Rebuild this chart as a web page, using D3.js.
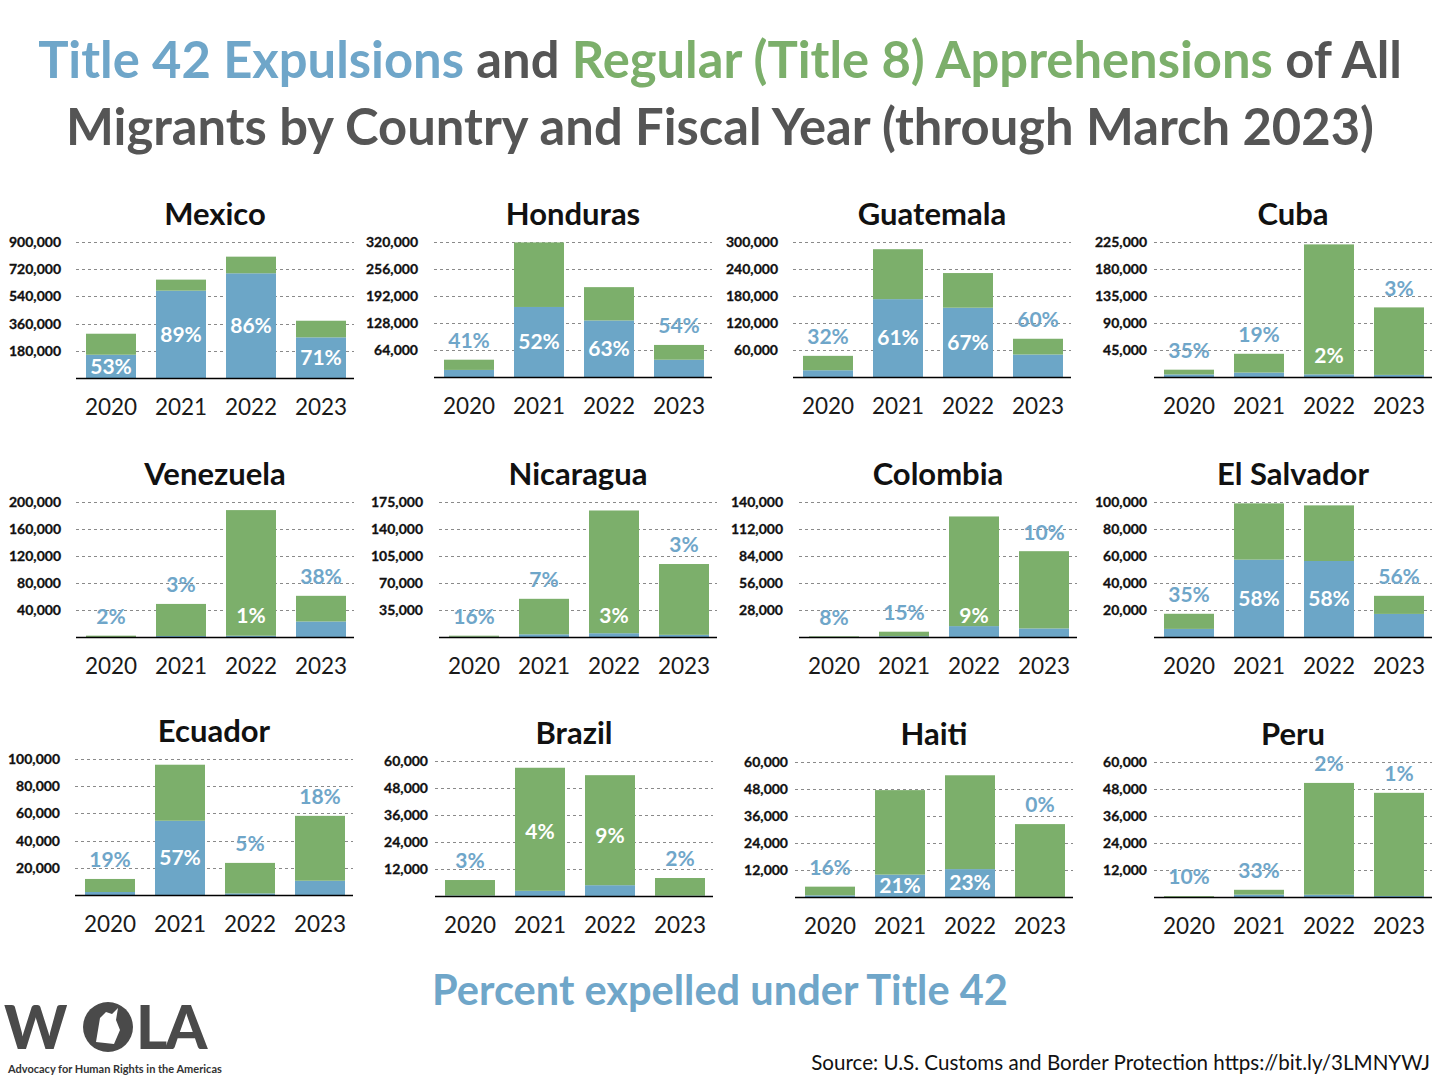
<!DOCTYPE html>
<html>
<head>
<meta charset="utf-8">
<script src="https://cdn.jsdelivr.net/npm/d3@7"></script>
<style>
  html, body { margin: 0; padding: 0; background: #fff; }
  svg { display: block; }
</style>
</head>
<body>
<svg id="chart" width="1440" height="1080"></svg>
<script>
// ---------------- DATA ----------------
const years = ["2020", "2021", "2022", "2023"];
const countries = ["Mexico", "Honduras", "Guatemala", "Cuba",
                   "Venezuela", "Nicaragua", "Colombia", "El Salvador",
                   "Ecuador", "Brazil", "Haiti", "Peru"];

// Title 42 expulsions (blue) per country, FY2020..FY2023
const title42 = [
  [154000, 578000, 693000, 269000],  // Mexico
  [16800, 166000, 134000, 41000],    // Honduras
  [15000, 173000, 154000, 50000],    // Guatemala
  [4300, 7400, 4400, 3500],          // Cuba
  [40, 1500, 1900, 23000],           // Venezuela
  [270, 3500, 4900, 2800],           // Nicaragua
  [60, 800, 11300, 8900],            // Colombia
  [6000, 57300, 56300, 17100],       // El Salvador
  [2200, 54600, 1200, 10500],        // Ecuador
  [210, 2300, 4800, 160],            // Brazil
  [740, 9950, 12400, 50],            // Haiti
  [40, 1050, 1000, 460]              // Peru
];

// Regular (Title 8) apprehensions (green) per country
const title8 = [
  [139000, 73000, 110000, 110000],   // Mexico
  [24200, 153000, 79000, 35000],     // Honduras
  [32000, 111000, 77000, 35000],     // Guatemala
  [7900, 31300, 216600, 112500],     // Cuba
  [1960, 47500, 186100, 38000],      // Venezuela
  [1430, 46000, 159100, 91800],      // Nicaragua
  [640, 4700, 113700, 80100],        // Colombia
  [11200, 41700, 41200, 13400],      // El Salvador
  [9600, 41200, 22400, 47700],       // Ecuador
  [6890, 54700, 48900, 7840],        // Brazil
  [3860, 37550, 41700, 32350],       // Haiti
  [360, 2150, 49700, 45840]          // Peru
];

// Percent expelled under Title 42 (label text)
const pctLabels = [
  ["53%", "89%", "86%", "71%"],
  ["41%", "52%", "63%", "54%"],
  ["32%", "61%", "67%", "60%"],
  ["35%", "19%", "2%", "3%"],
  ["2%", "3%", "1%", "38%"],
  ["16%", "7%", "3%", "3%"],
  ["8%", "15%", "9%", "10%"],
  ["35%", "58%", "58%", "56%"],
  ["19%", "57%", "5%", "18%"],
  ["3%", "4%", "9%", "2%"],
  ["16%", "21%", "23%", "0%"],
  ["10%", "33%", "2%", "1%"]
];

// Y-axis tick values per country
const tickValues = [
  [180000, 360000, 540000, 720000, 900000],
  [64000, 128000, 192000, 256000, 320000],
  [60000, 120000, 180000, 240000, 300000],
  [45000, 90000, 135000, 180000, 225000],
  [40000, 80000, 120000, 160000, 200000],
  [35000, 70000, 105000, 140000, 175000],
  [28000, 56000, 84000, 112000, 140000],
  [20000, 40000, 60000, 80000, 100000],
  [20000, 40000, 60000, 80000, 100000],
  [12000, 24000, 36000, 48000, 60000],
  [12000, 24000, 36000, 48000, 60000],
  [12000, 24000, 36000, 48000, 60000]
];

// ---------------- LAYOUT / STYLE ----------------
// label placement: in = white, centred in blue; low = white near base;
// mid = white, centred in whole bar; top = blue, above bar
const labelModes = [
  ["in", "in", "in", "in"],
  ["top", "in", "in", "top"],
  ["top", "in", "in", "top"],
  ["top", "top", "low", "top"],
  ["top", "top", "low", "top"],
  ["top", "top", "low", "top"],
  ["top", "top", "low", "top"],
  ["top", "in", "in", "top"],
  ["top", "in", "top", "top"],
  ["top", "mid", "mid", "top"],
  ["top", "in", "in", "top"],
  ["top", "top", "top", "top"]
];
// panel plot boxes: [left, top, baseline, tickLabelRightX]
const panelBoxes = [
  [76, 242, 378, 61], [434, 242, 377, 418], [793, 242, 377, 778], [1154, 242, 377, 1147],
  [76, 502, 637, 61], [439, 502, 637, 423], [799, 502, 637, 783], [1154, 502, 637, 1147],
  [75, 759, 895, 60], [435, 761, 896, 428], [795, 762, 897, 788], [1154, 762, 897, 1147]
];

const BLUE = "#6CA6C7";
const GREEN = "#7CAF6B";
const TEXT_BLUE = "#6FA6C9";
const GRAY = "#555555";
const FONT = "Lato, 'Open Sans', sans-serif";

const svg = d3.select("#chart");

// ---------------- TITLE ----------------
function fitText(sel, targetWidth) {
  const node = sel.node();
  const w = node.getComputedTextLength();
  const fs = parseFloat(sel.attr("font-size"));
  sel.attr("font-size", fs * targetWidth / w);
}

const t1 = svg.append("text")
  .attr("x", 720).attr("y", 78)
  .attr("text-anchor", "middle")
  .attr("font-family", FONT).attr("font-weight", 700)
  .attr("font-size", 48).attr("fill", GRAY);
t1.append("tspan").attr("fill", TEXT_BLUE).text("Title 42 Expulsions");
t1.append("tspan").text(" and ");
t1.append("tspan").attr("fill", GREEN).text("Regular (Title 8) Apprehensions");
t1.append("tspan").text(" of All");
fitText(t1, 1364);

svg.append("text")
  .attr("x", 720).attr("y", 145)
  .attr("text-anchor", "middle")
  .attr("font-family", FONT).attr("font-weight", 700)
  .attr("font-size", t1.attr("font-size")).attr("fill", GRAY)
  .text("Migrants by Country and Fiscal Year (through March 2023)");

// ---------------- PANELS ----------------
const stack = d3.stack().keys(["t42", "t8"]);

countries.forEach((country, i) => {
  const [L, top, base, tickX] = panelBoxes[i];
  const ticks = tickValues[i];
  const maxV = d3.max(ticks);

  const x = d3.scaleBand().domain(years).range([L, L + 280])
    .paddingInner(2 / 7).paddingOuter(1 / 7);
  const y = d3.scaleLinear().domain([0, maxV]).range([base, top]);

  const g = svg.append("g").attr("class", "panel");
  const rows = years.map((yr, j) => ({ year: yr, t42: title42[i][j], t8: title8[i][j] }));
  const series = stack(rows);

  // grid lines
  g.append("g").selectAll("line").data(ticks).join("line")
    .attr("x1", L).attr("x2", L + 278)
    .attr("y1", d => Math.round(y(d)) + 0.5).attr("y2", d => Math.round(y(d)) + 0.5)
    .attr("stroke", "#8a8a8a").attr("stroke-width", 1)
    .attr("stroke-dasharray", "3,3");

  // tick labels
  g.append("g").selectAll("text").data(ticks).join("text")
    .attr("x", tickX).attr("y", d => y(d))
    .attr("dy", "0.35em")
    .attr("text-anchor", "end")
    .attr("font-family", FONT).attr("font-weight", 700)
    .attr("font-size", 14).attr("fill", "#111")
    .attr("stroke", "#111").attr("stroke-width", 0.3)
    .text(d => d3.format(",")(d));

  // bars
  const colors = { t42: BLUE, t8: GREEN };
  g.append("g").selectAll("g").data(series).join("g")
    .attr("fill", s => colors[s.key])
    .selectAll("rect").data(s => s).join("rect")
    .attr("x", d => x(d.data.year))
    .attr("width", x.bandwidth())
    .attr("y", d => y(d[1]))
    .attr("height", d => Math.max(0, y(d[0]) - y(d[1])));

  // baseline
  g.append("line")
    .attr("x1", L).attr("x2", L + 278)
    .attr("y1", base + 0.5).attr("y2", base + 0.5)
    .attr("stroke", "#000").attr("stroke-width", 1.5);

  // year labels
  g.append("g").selectAll("text").data(years).join("text")
    .attr("x", d => x(d) + x.bandwidth() / 2)
    .attr("y", base + 37)
    .attr("text-anchor", "middle")
    .attr("font-family", FONT).attr("font-weight", 400)
    .attr("font-size", 22.5).attr("fill", "#1a1a1a")
    .text(d => d);

  // country title
  g.append("text")
    .attr("x", L + 139).attr("y", top - 17)
    .attr("text-anchor", "middle")
    .attr("font-family", FONT).attr("font-weight", 700)
    .attr("font-size", 31).attr("fill", "#111")
    .text(country);

  // percent labels
  g.append("g").selectAll("text").data(rows).join("text")
    .attr("x", d => x(d.year) + x.bandwidth() / 2)
    .attr("y", (d, j) => {
      const m = labelModes[i][j];
      if (m === "in") return (y(0) + y(d.t42)) / 2;
      if (m === "low") return base - 21;
      if (m === "mid") return (y(0) + y(d.t42 + d.t8)) / 2;
      return y(d.t42 + d.t8) - 19;
    })
    .attr("dy", "0.35em")
    .attr("text-anchor", "middle")
    .attr("font-family", FONT).attr("font-weight", 700)
    .attr("font-size", 21)
    .attr("fill", (d, j) => labelModes[i][j] === "top" ? TEXT_BLUE : "#ffffff")
    .text((d, j) => pctLabels[i][j]);
});

// ---------------- FOOTER ----------------
const foot = svg.append("text")
  .attr("x", 720).attr("y", 1005)
  .attr("text-anchor", "middle")
  .attr("font-family", FONT).attr("font-weight", 700)
  .attr("font-size", 38).attr("fill", TEXT_BLUE)
  .text("Percent expelled under Title 42");
fitText(foot, 576);

const src = svg.append("text")
  .attr("x", 1430).attr("y", 1070)
  .attr("text-anchor", "end")
  .attr("font-family", FONT).attr("font-weight", 400)
  .attr("font-size", 19).attr("fill", "#111")
  .text("Source: U.S. Customs and Border Protection https://bit.ly/3LMNYWJ");
fitText(src, 619);

// ---------------- LOGO ----------------
const logo = svg.append("g").attr("fill", "#4a4a4a");
logo.append("text").attr("x", 4).attr("y", 1049)
  .attr("font-family", FONT).attr("font-weight", 900)
  .attr("font-size", 60).attr("textLength", 74).text("W");
logo.append("circle").attr("cx", 108).attr("cy", 1027).attr("r", 25);
logo.append("path")
  .attr("d", "M96,1042 L100,1018 L106,1012 L112,1014 L118,1008 L116,1020 L120,1030 L114,1044 Z")
  .attr("fill", "#ffffff");
logo.append("text").attr("x", 136).attr("y", 1049)
  .attr("font-family", FONT).attr("font-weight", 900)
  .attr("font-size", 60).attr("letter-spacing", -2).text("LA");
const tag = svg.append("text").attr("x", 8).attr("y", 1073)
  .attr("font-family", FONT).attr("font-weight", 700)
  .attr("font-size", 9.5).attr("fill", "#333")
  .text("Advocacy for Human Rights in the Americas");
fitText(tag, 214);
</script>
</body>
</html>
